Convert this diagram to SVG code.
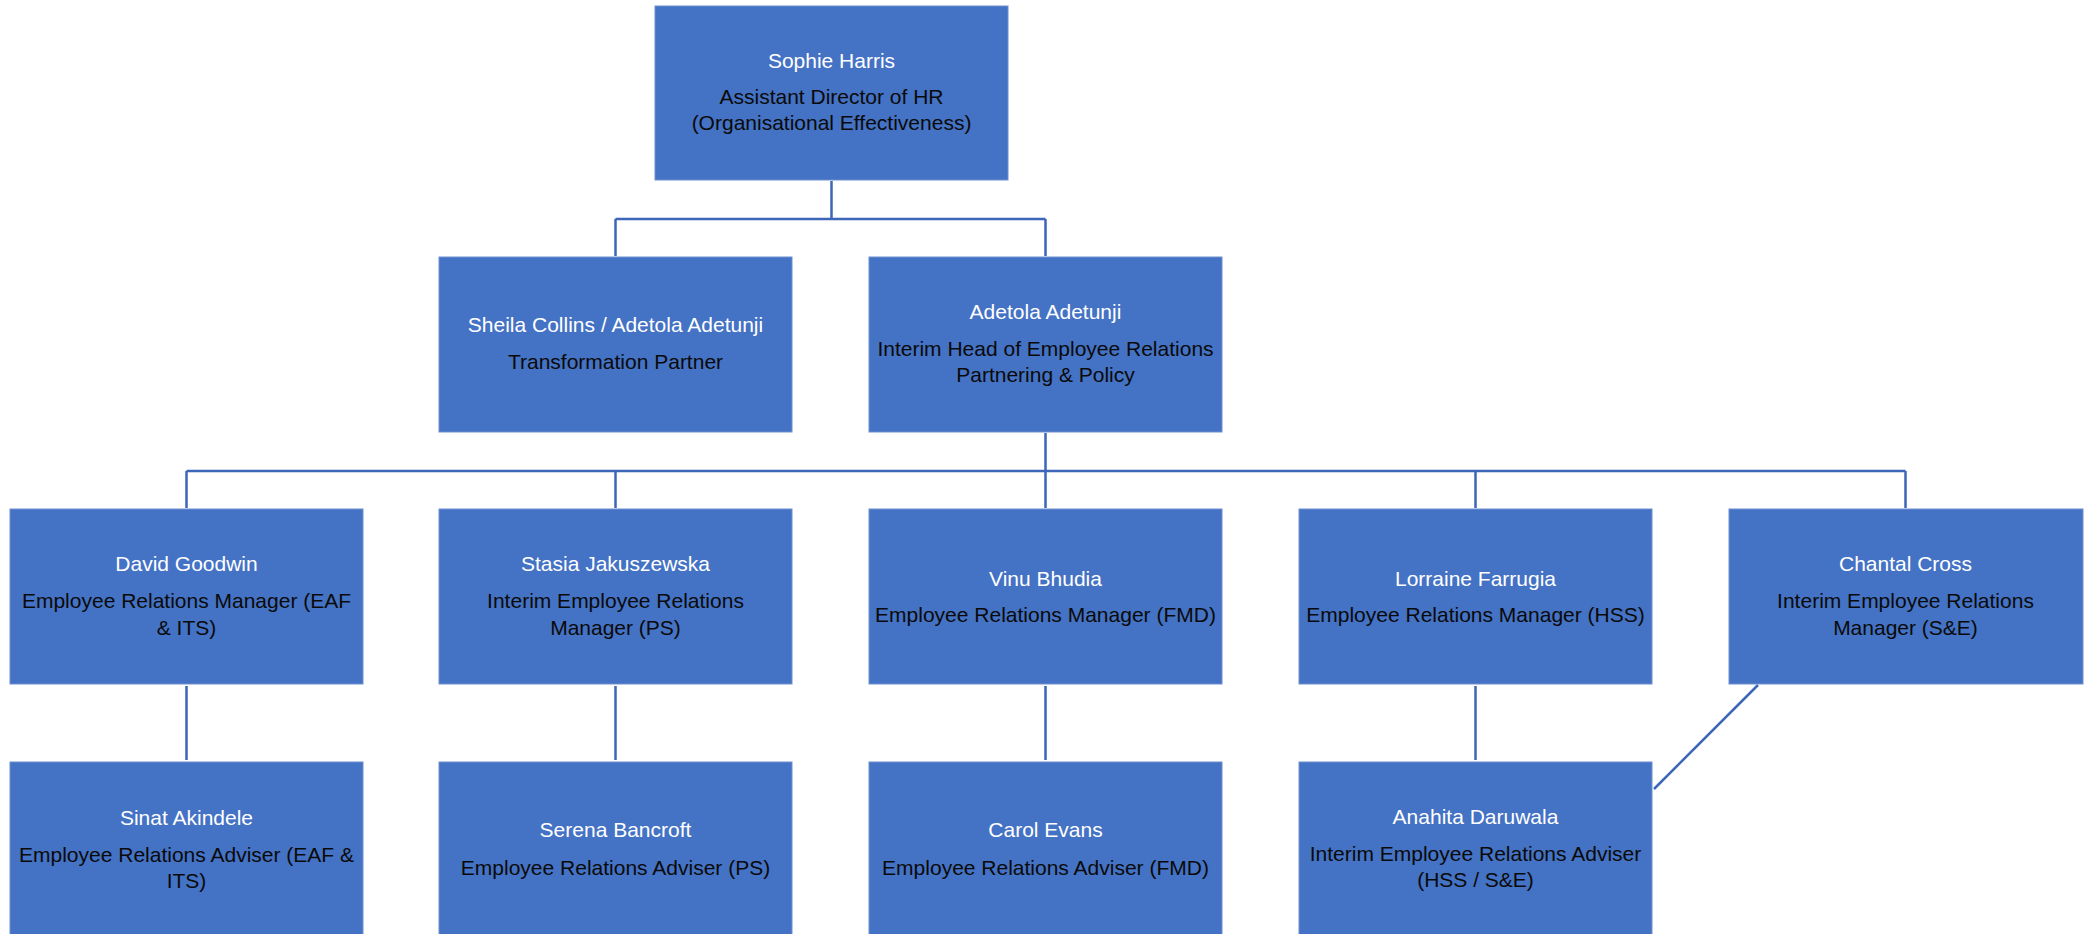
<svg xmlns="http://www.w3.org/2000/svg" width="2087" height="934" viewBox="0 0 2087 934">
<style>
.box{fill:#4472C4;stroke:#6f90d0;stroke-width:1}
.n{font-family:"Liberation Sans",Arial,sans-serif;font-size:21px;fill:#ffffff;text-anchor:middle}
.t{font-family:"Liberation Sans",Arial,sans-serif;font-size:21px;fill:#0a0a0a;text-anchor:middle}
.c{fill:none;stroke:#3d66b8;stroke-width:2.5}
</style>
<rect width="2087" height="934" fill="#ffffff"/>
<g id="connectors">
<path class="c" d="M831.5,181 V219 M615.5,219 H1045.5 M615.5,219 V256 M1045.5,219 V256"/>
<path class="c" d="M1045.5,433 V471 M186.5,471 H1905.5 M186.5,471 V508 M615.5,471 V508 M1045.5,471 V508 M1475.5,471 V508 M1905.5,471 V508"/>
<path class="c" d="M186.5,686 V760 M615.5,686 V760 M1045.5,686 V760 M1475.5,686 V760"/>
<path class="c" d="M1758,685 L1654,789"/>
</g>
<g id="sophie"><rect class="box" x="655" y="6" width="353" height="174"/>
<text class="n" x="831.5" y="68">Sophie Harris</text>
<text class="t" x="831.5" y="104">Assistant Director of HR</text>
<text class="t" x="831.5" y="130">(Organisational Effectiveness)</text></g>
<g id="sheila"><rect class="box" x="439" y="257" width="353" height="175"/>
<text class="n" x="615.5" y="332">Sheila Collins / Adetola Adetunji</text>
<text class="t" x="615.5" y="369">Transformation Partner</text></g>
<g id="adetola"><rect class="box" x="869" y="257" width="353" height="175"/>
<text class="n" x="1045.5" y="319">Adetola Adetunji</text>
<text class="t" x="1045.5" y="356">Interim Head of Employee Relations</text>
<text class="t" x="1045.5" y="382">Partnering &amp; Policy</text></g>
<g id="david"><rect class="box" x="10" y="509" width="353" height="175"/>
<text class="n" x="186.5" y="571">David Goodwin</text>
<text class="t" x="186.5" y="608">Employee Relations Manager (EAF</text>
<text class="t" x="186.5" y="635">&amp; ITS)</text></g>
<g id="stasia"><rect class="box" x="439" y="509" width="353" height="175"/>
<text class="n" x="615.5" y="571">Stasia Jakuszewska</text>
<text class="t" x="615.5" y="608">Interim Employee Relations</text>
<text class="t" x="615.5" y="635">Manager (PS)</text></g>
<g id="vinu"><rect class="box" x="869" y="509" width="353" height="175"/>
<text class="n" x="1045.5" y="586">Vinu Bhudia</text>
<text class="t" x="1045.5" y="622">Employee Relations Manager (FMD)</text></g>
<g id="lorraine"><rect class="box" x="1299" y="509" width="353" height="175"/>
<text class="n" x="1475.5" y="586">Lorraine Farrugia</text>
<text class="t" x="1475.5" y="622">Employee Relations Manager (HSS)</text></g>
<g id="chantal"><rect class="box" x="1729" y="509" width="354" height="175"/>
<text class="n" x="1905.5" y="571">Chantal Cross</text>
<text class="t" x="1905.5" y="608">Interim Employee Relations</text>
<text class="t" x="1905.5" y="635">Manager (S&amp;E)</text></g>
<g id="sinat"><rect class="box" x="10" y="762" width="353" height="180"/>
<text class="n" x="186.5" y="825">Sinat Akindele</text>
<text class="t" x="186.5" y="862">Employee Relations Adviser (EAF &amp;</text>
<text class="t" x="186.5" y="888">ITS)</text></g>
<g id="serena"><rect class="box" x="439" y="762" width="353" height="180"/>
<text class="n" x="615.5" y="837">Serena Bancroft</text>
<text class="t" x="615.5" y="875">Employee Relations Adviser (PS)</text></g>
<g id="carol"><rect class="box" x="869" y="762" width="353" height="180"/>
<text class="n" x="1045.5" y="837">Carol Evans</text>
<text class="t" x="1045.5" y="875">Employee Relations Adviser (FMD)</text></g>
<g id="anahita"><rect class="box" x="1299" y="762" width="353" height="180"/>
<text class="n" x="1475.5" y="824">Anahita Daruwala</text>
<text class="t" x="1475.5" y="861">Interim Employee Relations Adviser</text>
<text class="t" x="1475.5" y="887">(HSS / S&amp;E)</text></g>
</svg>
